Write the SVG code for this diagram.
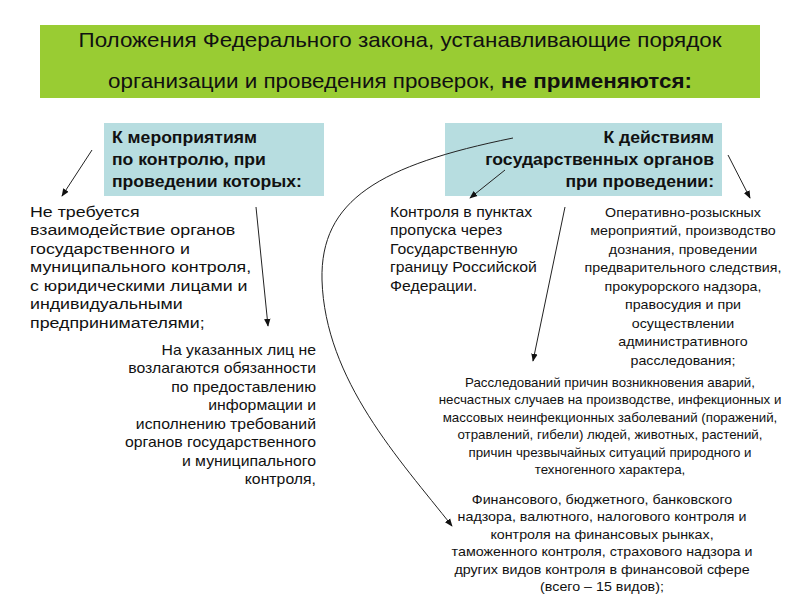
<svg xmlns="http://www.w3.org/2000/svg" width="800" height="600" viewBox="0 0 800 600">
<style>
text{font-family:"Liberation Sans",Arial,sans-serif;fill:#111}
.t{font-size:20px}
.h{font-size:16px;font-weight:bold}
.b{font-size:13px}
.s{font-size:12px}
.c{text-anchor:middle}
.r{text-anchor:end}
.ln{stroke:#222;stroke-width:1;fill:none;marker-end:url(#ah)}
</style>
<defs><marker id="ah" viewBox="0 0 10 10" refX="9" refY="5" markerWidth="8" markerHeight="8" orient="auto"><path d="M0,1 L10,5 L0,9 z" fill="#111"/></marker></defs>
<rect width="800" height="600" fill="#fff"/>
<g id="title"><rect x="40" y="25" width="720" height="73" fill="#99cc33"/>
<g transform="translate(400,0) scale(1.12,1)">
<text class="t c" x="0" y="47">Положения Федерального закона, устанавливающие порядок</text>
<text class="t c" x="0" y="88">организации и проведения проверок, <tspan font-weight="bold">не применяются:</tspan></text></g></g>
<g id="left-box"><rect x="104" y="123" width="220" height="73" fill="#b7dde0"/>
<g transform="translate(112,0) scale(1.1,1)">
<text class="h" x="0" y="143">К мероприятиям</text><text class="h" x="0" y="165">по контролю, при</text><text class="h" x="0" y="187">проведении которых:</text></g></g>
<g id="right-box"><rect x="445" y="123" width="277" height="73" fill="#b7dde0"/>
<g transform="translate(714,0) scale(1.1,1)">
<text class="h r" x="0" y="143">К действиям</text><text class="h r" x="0" y="165">государственных органов</text><text class="h r" x="0" y="187">при проведении:</text></g></g>
<g id="connectors">
<line class="ln" x1="92" y1="150" x2="62" y2="196"/>
<line class="ln" x1="256" y1="207" x2="268" y2="326"/>
<line class="ln" x1="505" y1="170" x2="470" y2="198"/>
<line class="ln" x1="728" y1="155" x2="750" y2="198"/>
<line class="ln" x1="565" y1="207" x2="533" y2="361"/>
<path class="ln" d="M513,138 C380,165 320,200 322,280 C325,380 400,460 452,526"/>
</g>
<g id="n1" transform="translate(30,0) scale(1.27,1)"><text class="b" style="font-size:14px">
<tspan x="0" y="217">Не требуется</tspan><tspan x="0" y="235.5">взаимодействие органов</tspan><tspan x="0" y="254">государственного и</tspan><tspan x="0" y="272.5">муниципального контроля,</tspan><tspan x="0" y="291">с юридическими лицами и</tspan><tspan x="0" y="309.5">индивидуальными</tspan><tspan x="0" y="328">предпринимателями;</tspan></text></g>
<g id="n2" transform="translate(316,0) scale(1.13,1)"><text class="b r" style="font-size:14px">
<tspan x="0" y="355">На указанных лиц не</tspan><tspan x="0" y="373.5">возлагаются обязанности</tspan><tspan x="0" y="392">по предоставлению</tspan><tspan x="0" y="410.5">информации и</tspan><tspan x="0" y="429">исполнению требований</tspan><tspan x="0" y="447.5">органов государственного</tspan><tspan x="0" y="466">и муниципального</tspan><tspan x="0" y="484.5">контроля,</tspan></text></g>
<g id="n3" transform="translate(390,0) scale(1.13,1)"><text class="b" style="font-size:14px">
<tspan x="0" y="217">Контроля в пунктах</tspan><tspan x="0" y="235.5">пропуска через</tspan><tspan x="0" y="254">Государственную</tspan><tspan x="0" y="272.5">границу Российской</tspan><tspan x="0" y="291">Федерации.</tspan></text></g>
<g id="n4" transform="translate(683,0) scale(1.14,1)"><text class="s c" style="font-size:12.5px">
<tspan x="0" y="217">Оперативно-розыскных</tspan><tspan x="0" y="235.5">мероприятий, производство</tspan><tspan x="0" y="254">дознания, проведении</tspan><tspan x="0" y="272.5">предварительного следствия,</tspan><tspan x="0" y="291">прокурорского надзора,</tspan><tspan x="0" y="309.5">правосудия и при</tspan><tspan x="0" y="328">осуществлении</tspan><tspan x="0" y="346.5">административного</tspan><tspan x="0" y="365">расследования;</tspan></text></g>
<g id="n5" transform="translate(610,0) scale(1.11,1)"><text class="s c">
<tspan x="0" y="387">Расследований причин возникновения аварий,</tspan><tspan x="0" y="404.5">несчастных случаев на производстве, инфекционных и</tspan><tspan x="0" y="422">массовых неинфекционных заболеваний (поражений,</tspan><tspan x="0" y="439.5">отравлений, гибели) людей, животных, растений,</tspan><tspan x="0" y="457">причин чрезвычайных ситуаций природного и</tspan><tspan x="0" y="474.5">техногенного характера,</tspan></text></g>
<g id="n6" transform="translate(602,0) scale(1.19,1)"><text class="s c">
<tspan x="0" y="504">Финансового, бюджетного, банковского</tspan><tspan x="0" y="521.5">надзора, валютного, налогового контроля и</tspan><tspan x="0" y="539">контроля на финансовых рынках,</tspan><tspan x="0" y="556.5">таможенного контроля, страхового надзора и</tspan><tspan x="0" y="574">других видов контроля в финансовой сфере</tspan><tspan x="0" y="591.5">(всего – 15 видов);</tspan></text></g>
</svg>
